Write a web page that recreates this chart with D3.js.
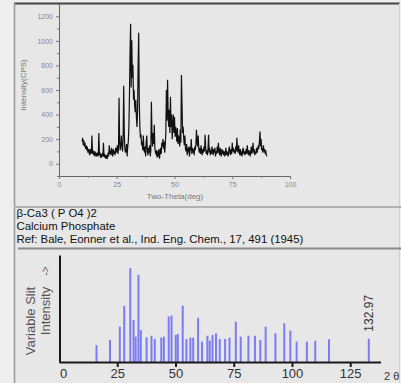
<!DOCTYPE html>
<html><head><meta charset="utf-8">
<script src="https://cdn.jsdelivr.net/npm/d3@7"></script>
<style>
html,body{margin:0;padding:0;background:#ececec;}
svg{display:block;font-family:"Liberation Sans",Arial,sans-serif;}
</style></head>
<body>
<svg id="c" width="401" height="383"></svg>
<script>
// ---------- Data ----------
// Measured XRD pattern: intensity (CPS) every 0.25 deg, starting at 10 deg
const scanStart = 10;
const scanStep = 0.25;
const scanIntensity = [
 180,210,150,190, 140,170,120,150, 110,140,90,120, 100,70,120,85, 90,230,80,110,
 70,100,60,90, 80,60,90,70, 60,250,70,90, 50,80,60,75, 60,170,55,80,
 45,70,40,60, 50,90,60,150, 80,110,70,130, 90,60,120,80, 100,70,130,90,
 110,150,80,120, 536,180,110,150, 230,140,100,200, 634,260,120,90, 110,160,60,140,
 180,300,550,900, 1140,620,1005,700, 805,520,600,470, 420,520,380,300, 420,790,1065,500,
 300,210,240,150, 180,110,230,120, 90,140,60,180, 230,100,70,130, 90,150,60,110,
 504,230,140,250, 160,317,130,90, 80,110,50,100, 60,120,40,90, 130,80,170,140,
 200,120,180,90, 150,260,600,350, 683,400,300,440, 250,545,300,400, 200,320,400,250,
 380,220,300,250, 180,290,160,230, 200,140,280,170, 723,495,250,300, 200,150,230,120,
 100,160,70,130, 90,140,60,120, 110,200,80,130, 90,120,70,140, 110,150,276,180,
 140,230,120,90, 130,80,150,100, 70,120,90,140, 100,236,130,80, 110,70,120,236,
 90,130,70,110, 80,140,100,70, 120,90,130,60, 100,80,140,90, 170,100,70,130,
 90,60,120,80, 110,70,100,60, 90,130,70,100, 80,60,110,140, 90,70,120,80,
 170,100,130,90, 110,80,140,100, 211,120,90,150, 100,70,120,80, 90,60,110,130,
 80,100,70,90, 120,80,150,100, 70,110,90,60, 100,140,80,110, 170,90,120,70,
 100,80,130,90, 110,150,120,180, 262,140,200,110, 130,90,150,100, 120,80,110,70,
 60
];
const topYTicks = [0, 200, 400, 600, 800, 1000, 1200];
const topXTicks = [0, 25, 50, 75, 100];

// Reference card: beta-Ca3(PO4)2 lines
const refTwoTheta = [16.1, 21.9, 26.1, 28.0, 30.6, 32.0, 32.9, 34.1, 35.1, 37.6, 39.7, 41.1,
  43.9, 45.0, 47.1, 48.3, 50.1, 51.0, 53.1, 54.7, 56.4, 57.6, 59.7, 61.4, 63.7, 64.7, 65.9,
  67.4, 69.0, 71.3, 73.2, 75.9, 78.0, 81.3, 84.1, 86.4, 88.7, 92.9, 96.7, 99.3, 102.0,
  106.4, 110.0, 115.9, 132.97];
const refIntensity = [18, 23.5, 37.7, 59.8, 100, 44.8, 27, 92.8, 34, 26.3, 28, 24.5,
  26, 27, 48.4, 49.4, 28.8, 30, 60, 24.5, 26, 26, 47, 21.7, 28, 22.7, 28.8,
  30.6, 24.5, 24.5, 26, 43, 27, 28, 28, 23.5, 37.7, 30.6, 41.3, 33.4, 21.7,
  21.7, 22.7, 24.2, 24.9];
const botXTicks = [0, 25, 50, 75, 100, 125];

const cardLines = ["\u03B2-Ca3 ( P O4 )2", "Calcium Phosphate",
  "Ref: Bale, Eonner et al., Ind. Eng. Chem., 17, 491 (1945)"];

// ---------- Drawing ----------
const svg = d3.select("#c");
svg.append("rect").attr("x", 0).attr("y", 0).attr("width", 401).attr("height", 383).attr("fill", "#eeeeee");
svg.append("rect").attr("x", 14).attr("y", 3).attr("width", 386).attr("height", 380).attr("fill", "#e7e7e7");
// frame
svg.append("line").attr("x1", 14).attr("x2", 400).attr("y1", 3.5).attr("y2", 3.5).attr("stroke", "#444").attr("stroke-width", 2);
svg.append("line").attr("x1", 14.5).attr("x2", 14.5).attr("y1", 3).attr("y2", 383).attr("stroke", "#999").attr("stroke-width", 1.5);
svg.append("line").attr("x1", 399.5).attr("x2", 399.5).attr("y1", 3).attr("y2", 383).attr("stroke", "#d0d0d0").attr("stroke-width", 1);

// ---- Top chart ----
const xT = d3.scaleLinear().domain([0, 100]).range([59, 290]);
const yT = d3.scaleLinear().domain([-100, 1300]).range([176, 4]);
const gTop = svg.append("g");

const yAx = gTop.append("g").attr("transform", "translate(59,0)")
  .call(d3.axisLeft(yT).tickValues(topYTicks).tickFormat(d3.format("d")).tickSize(3).tickPadding(3).tickSizeOuter(0));
const yAxMinor = gTop.append("g").attr("transform", "translate(59,0)")
  .call(d3.axisLeft(yT).tickValues(d3.range(-100, 1301, 100).filter(v => v % 200 !== 0)).tickSize(2).tickFormat("").tickSizeOuter(0));
const xAx = gTop.append("g").attr("transform", "translate(0,176)")
  .call(d3.axisBottom(xT).tickValues(topXTicks).tickFormat(d3.format("d")).tickSize(3).tickPadding(3).tickSizeOuter(0));
const xAxMinor = gTop.append("g").attr("transform", "translate(0,176)")
  .call(d3.axisBottom(xT).tickValues([12.5, 37.5, 62.5, 87.5]).tickSize(2).tickFormat("").tickSizeOuter(0));
[yAx, yAxMinor, xAx, xAxMinor].forEach(a => {
  a.selectAll("path").attr("stroke", "#666").attr("stroke-width", 1);
  a.selectAll("line").attr("stroke", "#777");
  a.selectAll("text").attr("fill", "#888").style("font-size", "7px");
});
yAxMinor.select("path").remove();
xAxMinor.select("path").remove();

const scan = scanIntensity.map((v, i) => [scanStart + i * scanStep, v]);
gTop.append("path").datum(scan)
  .attr("d", d3.line().x(d => xT(d[0])).y(d => yT(d[1])))
  .attr("fill", "none").attr("stroke", "#111").attr("stroke-width", 1.2).attr("stroke-linejoin", "miter");

gTop.append("text").attr("transform", "translate(26,85) rotate(-90)")
  .attr("text-anchor", "middle").attr("fill", "#777").style("font-size", "8px").text("Intensity(CPS)");
gTop.append("text").attr("x", 175).attr("y", 199)
  .attr("text-anchor", "middle").attr("fill", "#777").style("font-size", "8px").text("Two-Theta(deg)");

// separators
svg.append("line").attr("x1", 14).attr("x2", 401).attr("y1", 207).attr("y2", 207).attr("stroke", "#b0b0b0").attr("stroke-width", 2);
svg.append("line").attr("x1", 18).attr("x2", 401).attr("y1", 248.5).attr("y2", 248.5).attr("stroke", "#8a8a8a").attr("stroke-width", 1.8);

// card text
svg.selectAll("text.card").data(cardLines).enter().append("text").attr("class", "card")
  .attr("x", 16.5).attr("y", (d, i) => 216.5 + i * 13)
  .attr("fill", "#111").style("font-size", "11.4px").text(d => d);

// ---- Bottom chart ----
const xB = d3.scaleLinear().domain([0, 138]).range([59, 380.5]);
const yB = d3.scaleLinear().domain([0, 114]).range([362, 255]);
const gBot = svg.append("g");

gBot.selectAll("line.bar").data(refTwoTheta).enter().append("line").attr("class", "bar")
  .attr("x1", d => xB(d)).attr("x2", d => xB(d))
  .attr("y1", yB(0)).attr("y2", (d, i) => yB(refIntensity[i]))
  .attr("stroke", "#7c7cf2").attr("stroke-width", 2);

const bx = gBot.append("g").attr("transform", "translate(0,362)")
  .call(d3.axisBottom(xB).tickValues(botXTicks).tickSize(5).tickPadding(2).tickSizeOuter(0));
bx.select("path").attr("stroke", "#1a1a1a").attr("stroke-width", 2);
bx.selectAll("line").attr("stroke", "#1a1a1a").attr("stroke-width", 2);
bx.selectAll("text").attr("fill", "#333").style("font-size", "13px");
bx.selectAll(".tick").filter(d => d === 0).select("line").remove();
bx.selectAll(".tick").filter(d => d === 0).select("text").attr("x", 4);

const by = gBot.append("g").attr("transform", "translate(59.5,0)")
  .call(d3.axisLeft(yB).tickValues([]).tickSizeOuter(0));
by.select("path").attr("stroke", "#1a1a1a").attr("stroke-width", 2);

gBot.append("text").attr("x", 384).attr("y", 380).attr("fill", "#333").style("font-size", "11px").text("2 \u03B8");

const lastI = refTwoTheta.length - 1;
gBot.append("text")
  .attr("transform", `translate(${xB(refTwoTheta[lastI]) + 1},${yB(refIntensity[lastI]) - 7}) rotate(-90)`)
  .attr("dominant-baseline", "middle").attr("fill", "#333").style("font-size", "12px")
  .text(refTwoTheta[lastI].toFixed(2));

gBot.append("text").attr("transform", "translate(32,321) rotate(-90)")
  .attr("text-anchor", "middle").attr("dominant-baseline", "middle")
  .attr("fill", "#555").style("font-size", "13px").text("Variable Slit");
gBot.append("text").attr("transform", "translate(46.5,311) rotate(-90)")
  .attr("text-anchor", "middle").attr("dominant-baseline", "middle")
  .attr("fill", "#555").style("font-size", "13px").text("Intensity");
gBot.append("text").attr("transform", "translate(46.5,271) rotate(-90)")
  .attr("text-anchor", "middle").attr("dominant-baseline", "middle")
  .attr("fill", "#555").style("font-size", "10px").text("->");
</script>
</body></html>
